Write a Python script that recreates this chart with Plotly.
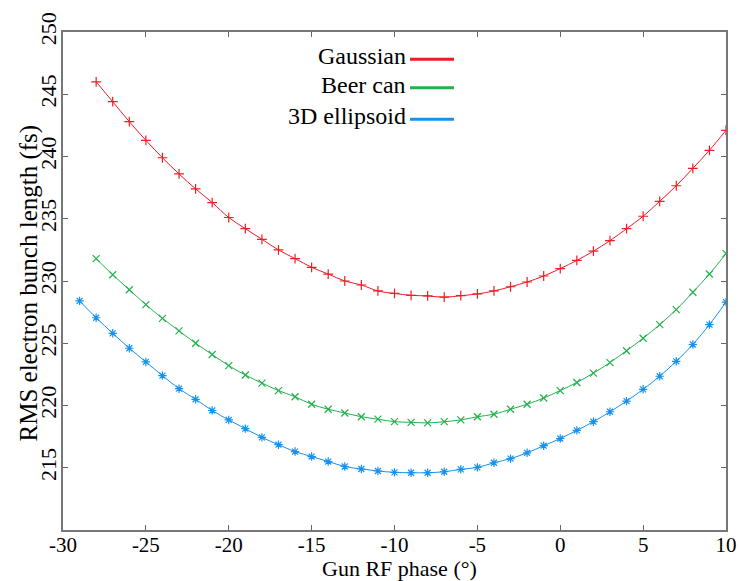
import plotly.graph_objects as go

# Data
phase_gauss = list(range(-28, 11))
gauss = [246.0, 244.4, 242.8, 241.3, 239.9, 238.6, 237.4, 236.3, 235.1, 234.2,
         233.35, 232.5, 231.8, 231.1, 230.56, 230.0, 229.68, 229.2, 229.0, 228.85,
         228.8, 228.7, 228.82, 228.96, 229.2, 229.54, 229.92, 230.4, 231.0, 231.65,
         232.4, 233.24, 234.2, 235.2, 236.4, 237.65, 239.05, 240.5, 242.1]

phase_beer = list(range(-28, 11))
beer = [231.8, 230.5, 229.3, 228.1, 227.0, 226.0, 225.0, 224.1, 223.2, 222.45,
        221.8, 221.2, 220.7, 220.1, 219.7, 219.4, 219.1, 218.9, 218.7, 218.65,
        218.6, 218.7, 218.84, 219.1, 219.3, 219.7, 220.1, 220.6, 221.2, 221.85,
        222.6, 223.45, 224.4, 225.4, 226.5, 227.7, 229.1, 230.56, 232.2]

phase_ell = list(range(-29, 11))
ellipsoid = [228.4, 227.05, 225.8, 224.6, 223.5, 222.4, 221.35, 220.5, 219.6, 218.84,
             218.14, 217.44, 216.85, 216.3, 215.9, 215.5, 215.1, 214.9, 214.74, 214.63,
             214.6, 214.6, 214.68, 214.87, 215.03, 215.4, 215.73, 216.2, 216.77, 217.35,
             218.0, 218.7, 219.5, 220.35, 221.3, 222.35, 223.55, 224.9, 226.5, 228.3]

series_names = ["Gaussian", "Beer can", "3D ellipsoid"]
x_ticks = [-30, -25, -20, -15, -10, -5, 0, 5, 10]
x_ticktext = ["-30", "-25", "-20", "-15", "-10", "-5", "0", "5", "10"]
y_ticks = [215, 220, 225, 230, 235, 240, 245, 250]
y_ticktext = ["215", "220", "225", "230", "235", "240", "245", "250"]
x_title = "Gun RF phase (°)"
y_title = "RMS electron bunch length (fs)"

RED = "#ee1c25"
GREEN = "#22b14c"
BLUE = "#1592f0"
FONT = "Times New Roman, Liberation Serif, serif"

fig = go.Figure()
for xs, ys, name, col, sym in [
    (phase_gauss, gauss, series_names[0], RED, "cross-thin-open"),
    (phase_beer, beer, series_names[1], GREEN, "x-thin-open"),
    (phase_ell, ellipsoid, series_names[2], BLUE, "asterisk-open"),
]:
    fig.add_trace(go.Scatter(
        x=xs, y=ys, name=name, mode="lines+markers",
        line=dict(color=col, width=1, shape="spline"),
        marker=dict(symbol=sym, size=7, color=col, line=dict(color=col, width=1.2)),
        showlegend=False,
    ))

# Manual legend (text right-aligned, sample line to the right)
leg_line_y = [0.9452, 0.8882, 0.8247]
for name, col, yy in zip(series_names, [RED, GREEN, BLUE], leg_line_y):
    fig.add_annotation(x=0.521, y=yy + 0.006, xref="paper", yref="paper", text=name,
                       showarrow=False, xanchor="right", yanchor="middle",
                       font=dict(family=FONT, size=24, color="black"))
    fig.add_shape(type="line", xref="paper", yref="paper",
                  x0=0.5234, x1=0.5897, y0=yy, y1=yy,
                  line=dict(color=col, width=3))

# Axis titles
fig.add_annotation(x=0.507, y=-0.107, xref="paper", yref="paper", text=x_title,
                   showarrow=False, xanchor="center", yanchor="bottom",
                   font=dict(family=FONT, size=22, color="black"))
fig.add_annotation(x=-0.0498, y=0.497, xref="paper", yref="paper", text=y_title,
                   showarrow=False, xanchor="center", yanchor="middle", textangle=-90,
                   font=dict(family=FONT, size=25, color="black"))

axis_common = dict(
    showgrid=False, zeroline=False, showline=True, linecolor="#777777", linewidth=1.5,
    mirror="ticks", ticks="inside", ticklen=5, tickcolor="#666666", tickwidth=1,
    automargin=False,
)

fig.update_layout(
    width=739, height=581,
    margin=dict(l=63, r=13, t=32, b=51),
    plot_bgcolor="white", paper_bgcolor="white",
    font=dict(family=FONT, size=20, color="black"),
    xaxis=dict(range=[-30, 10], tickvals=x_ticks, ticktext=x_ticktext, ticklabelstandoff=-5,
               tickfont=dict(family=FONT, size=21, color="black"), **axis_common),
    yaxis=dict(range=[210, 250], tickvals=y_ticks, ticktext=y_ticktext, tickangle=-90,
               ticklabelstandoff=-4,
               tickfont=dict(family=FONT, size=22, color="black"), **axis_common),
)

fig.write_html("out.html", config={"displayModeBar": False},
               post_script="document.body.style.margin='0';document.body.style.padding='0';")
